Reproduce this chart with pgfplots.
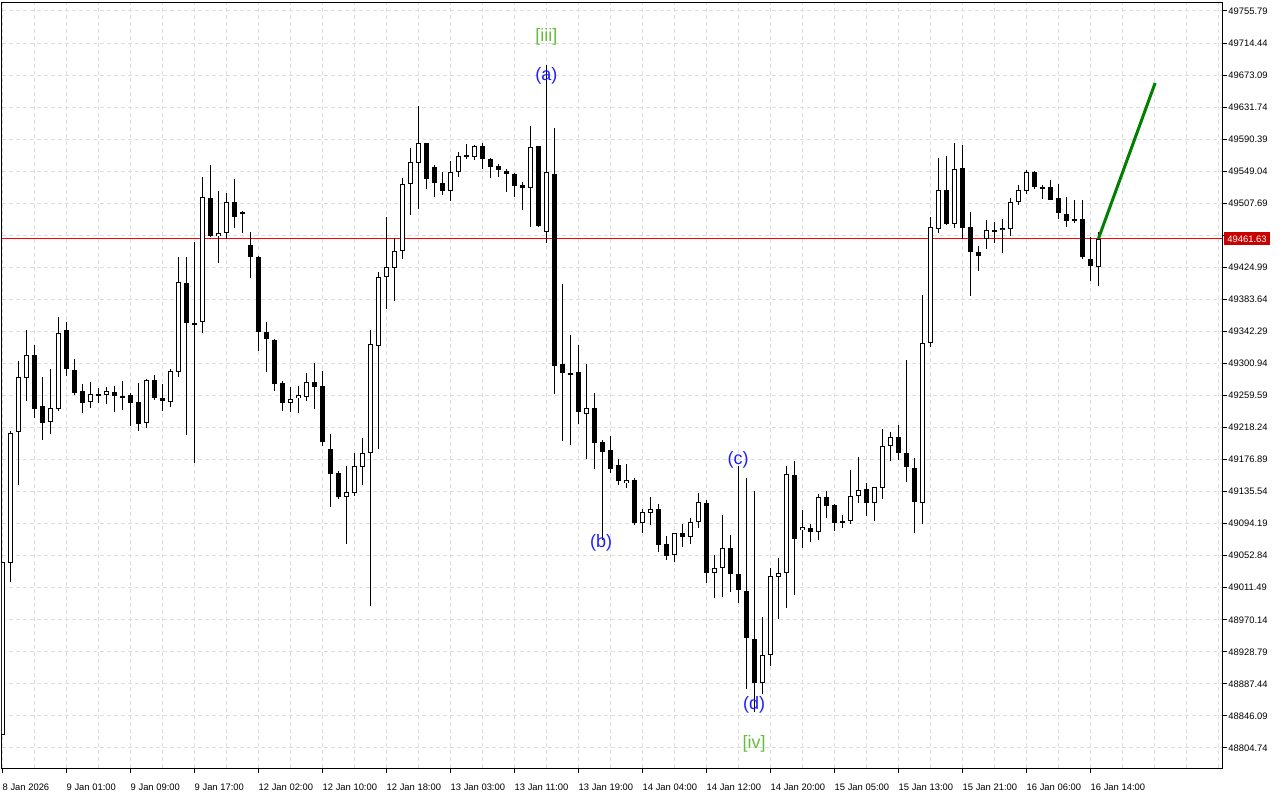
\documentclass[border=0pt]{standalone}
\usepackage{fontspec}
\setmainfont{Liberation Sans}
\usepackage{pgfplots}
\pgfplotsset{compat=1.18}
\usepackage{pgfplotstable}
\definecolor{gridc}{RGB}{222,222,222}
\definecolor{lblue}{RGB}{30,30,255}
\definecolor{wgreen}{RGB}{100,190,60}
\definecolor{fgreen}{RGB}{0,128,0}
\definecolor{pricered}{RGB}{200,0,0}

\pgfplotstableread{
i o h l c
0 48821.47 49044.73 48821.47 49044.73
1 49043.44 49213.78 49018.92 49211.20
2 49212.49 49304.12 49144.10 49283.47
3 49282.18 49344.12 49252.50 49311.86
4 49311.86 49324.77 49230.56 49242.18
5 49246.05 49283.47 49202.17 49224.11
6 49225.40 49293.80 49209.91 49243.47
7 49242.18 49360.90 49239.59 49340.25
8 49344.12 49354.45 49284.76 49293.80
9 49292.50 49306.70 49260.24 49262.82
10 49265.40 49274.44 49237.01 49249.92
11 49251.21 49277.02 49243.47 49261.53
12 49261.53 49269.28 49249.92 49258.95
13 49260.24 49270.57 49248.63 49265.40
14 49264.11 49271.86 49238.30 49258.95
15 49257.66 49278.31 49240.88 49257.66
16 49260.24 49262.82 49220.24 49249.92
17 49251.21 49275.73 49213.78 49222.82
18 49224.11 49280.89 49217.66 49279.60
19 49279.60 49286.05 49253.79 49256.37
20 49256.37 49274.44 49239.59 49252.50
21 49251.21 49293.80 49244.76 49291.21
22 49289.92 49438.33 49283.47 49406.07
23 49404.78 49438.33 49208.62 49353.16
24 49353.16 49457.69 49172.49 49350.58
25 49354.45 49541.57 49340.25 49515.76
26 49514.47 49557.06 49464.14 49465.43
27 49465.43 49523.50 49430.59 49469.30
28 49469.30 49520.92 49461.56 49509.31
29 49509.31 49538.99 49475.76 49489.95
30 49493.82 49497.69 49469.30 49496.40
31 49453.82 49470.59 49411.23 49438.33
32 49438.33 49439.62 49317.02 49341.54
33 49341.54 49354.45 49289.92 49332.51
34 49331.22 49332.51 49265.40 49274.44
35 49275.73 49278.31 49239.59 49249.92
36 49249.92 49270.57 49238.30 49255.08
37 49256.37 49271.86 49237.01 49260.24
38 49257.66 49288.63 49252.50 49277.02
39 49277.02 49301.54 49242.18 49270.57
40 49271.86 49291.21 49194.43 49199.59
41 49190.56 49209.91 49115.71 49158.29
42 49159.58 49162.16 49126.03 49128.61
43 49128.61 49168.62 49067.96 49135.06
44 49133.77 49185.39 49129.90 49168.62
45 49167.33 49204.75 49144.10 49185.39
46 49185.39 49344.12 48987.95 49326.06
47 49323.48 49418.97 49190.56 49412.52
48 49412.52 49489.95 49371.23 49425.43
49 49424.14 49462.85 49381.55 49446.07
50 49446.07 49540.28 49435.75 49532.54
51 49532.54 49579.00 49492.53 49560.93
52 49559.64 49633.20 49500.28 49585.45
53 49585.45 49585.45 49526.09 49538.99
54 49554.48 49557.06 49515.76 49533.83
55 49533.83 49548.02 49518.34 49523.50
56 49523.50 49562.22 49510.60 49548.02
57 49548.02 49573.83 49541.57 49568.67
58 49569.96 49584.16 49564.80 49567.38
59 49567.38 49582.87 49563.51 49581.58
60 49581.58 49585.45 49551.90 49564.80
61 49564.80 49566.09 49540.28 49554.48
62 49555.77 49558.35 49541.57 49550.60
63 49549.31 49551.90 49522.21 49545.44
64 49545.44 49546.73 49515.76 49529.96
65 49531.25 49535.12 49498.98 49527.38
66 49527.38 49607.39 49477.05 49580.29
67 49581.58 49581.58 49477.05 49478.34
68 49470.59 49686.00 49456.40 49548.02
69 49545.44 49604.81 49261.53 49297.67
70 49300.25 49403.49 49200.88 49288.63
71 49286.05 49337.67 49195.72 49288.63
72 49289.92 49324.77 49222.82 49238.30
73 49235.72 49300.25 49177.65 49243.47
74 49243.47 49262.82 49164.75 49198.30
75 49199.59 49202.17 49073.12 49186.68
76 49189.27 49207.33 49159.58 49164.75
77 49169.91 49177.65 49144.10 49149.26
78 49146.68 49171.20 49140.23 49150.55
79 49150.55 49153.13 49092.48 49095.06
80 49095.06 49113.13 49082.15 49109.25
81 49107.96 49128.61 49092.48 49113.13
82 49113.13 49119.58 49057.63 49066.67
83 49067.96 49078.28 49047.31 49052.47
84 49053.76 49082.15 49044.73 49082.15
85 49082.15 49093.77 49064.09 49076.99
86 49076.99 49101.51 49067.96 49096.35
87 49096.35 49133.77 49088.61 49122.16
88 49120.87 49124.74 49017.63 49030.53
89 49030.53 49053.76 48998.27 49036.99
90 49036.99 49105.38 48999.56 49062.80
91 49062.80 49079.57 49006.01 49029.24
92 49029.24 49168.62 48991.82 49008.59
93 49007.30 49153.13 48880.84 48946.65
94 48945.36 49136.35 48851.15 48888.58
95 48888.58 48973.75 48874.38 48924.71
96 48924.71 49036.99 48910.52 49026.66
97 49025.37 49049.89 48971.17 49030.53
98 49030.53 49168.62 48985.37 49158.29
99 49157.00 49175.07 49002.14 49074.41
100 49086.02 49111.83 49062.80 49089.90
101 49088.61 49093.77 49070.54 49083.44
102 49083.44 49132.48 49073.12 49128.61
103 49128.61 49136.35 49101.51 49117.00
104 49118.29 49119.58 49084.73 49095.06
105 49095.06 49105.38 49088.61 49097.64
106 49097.64 49163.45 49093.77 49129.90
107 49129.90 49180.23 49120.87 49137.64
108 49138.94 49146.68 49104.09 49120.87
109 49120.87 49141.52 49097.64 49141.52
110 49140.23 49216.37 49126.03 49194.43
111 49194.43 49212.49 49175.07 49206.04
112 49206.04 49221.53 49176.36 49185.39
113 49185.39 49305.41 49147.97 49167.33
114 49166.04 49178.94 49082.15 49122.16
115 49120.87 49389.29 49093.77 49327.35
116 49327.35 49489.95 49322.19 49477.05
117 49474.47 49566.09 49469.30 49524.79
118 49524.79 49568.67 49479.63 49480.92
119 49480.92 49585.45 49475.76 49551.90
120 49553.19 49582.87 49461.56 49475.76
121 49477.05 49496.40 49388.00 49444.78
122 49444.78 49452.53 49420.26 49439.62
123 49461.56 49486.08 49448.66 49473.17
124 49473.17 49483.50 49456.40 49471.88
125 49473.17 49487.37 49443.49 49475.76
126 49474.47 49514.47 49465.43 49509.31
127 49509.31 49531.25 49505.44 49524.79
128 49523.50 49550.60 49519.63 49548.02
129 49548.02 49549.31 49526.09 49528.67
130 49528.67 49531.25 49513.18 49527.38
131 49528.67 49537.70 49511.89 49511.89
132 49514.47 49532.54 49487.37 49495.11
133 49493.82 49515.76 49477.05 49484.79
134 49484.79 49511.89 49482.21 49487.37
135 49487.37 49511.89 49435.75 49438.33
136 49435.75 49464.14 49407.36 49426.72
137 49425.43 49470.59 49400.91 49461.63
}\candles

\begin{document}
\begin{tikzpicture}
\path[use as bounding box] (0,0) rectangle (640pt,400pt);
\begin{axis}[
  at={(1pt,16pt)}, anchor=south west,
  scale only axis, width=610pt, height=382.5pt,
  xmin=-0.04, xmax=152.46, ymin=48778.89, ymax=49766.12,
  scaled x ticks=false, scaled y ticks=false,
  axis line style={line width=0.5pt, black},
  tick style={black, line width=0.5pt},
  tick align=outside, major tick length=2.5pt, minor tick length=0pt,
  xtick pos=lower, ytick pos=right, yticklabel pos=right,
  xtick={0,8,...,136},
  xticklabels={8 Jan 2026, 9 Jan 01:00, 9 Jan 09:00, 9 Jan 17:00, 12 Jan 02:00, 12 Jan 10:00, 12 Jan 18:00, 13 Jan 03:00, 13 Jan 11:00, 13 Jan 19:00, 14 Jan 04:00, 14 Jan 12:00, 14 Jan 20:00, 15 Jan 05:00, 15 Jan 13:00, 15 Jan 21:00, 16 Jan 06:00, 16 Jan 14:00},
  minor xtick={4,12,20,28,36,44,52,60,68,76,84,92,100,108,116,124,132,140,144,148,152},
  ytick={48804.74,48846.09,48887.44,48928.79,48970.14,49011.49,49052.84,49094.19,49135.54,49176.89,49218.24,49259.59,49300.94,49342.29,49383.64,49424.99,49466.34,49507.69,49549.04,49590.39,49631.74,49673.09,49714.44,49755.79},
  yticklabels={48804.74,48846.09,48887.44,48928.79,48970.14,49011.49,49052.84,49094.19,49135.54,49176.89,49218.24,49259.59,49300.94,49342.29,49383.64,49424.99,{},49507.69,49549.04,49590.39,49631.74,49673.09,49714.44,49755.79},
  xticklabel style={font=\fontsize{4.7}{5.5}\selectfont, anchor=north west, inner sep=0pt, xshift=0pt, yshift=-5.5pt},
  yticklabel style={font=\fontsize{4.7}{5.5}\selectfont, anchor=west, inner sep=0pt, xshift=0.5pt},
  grid=both,
  major grid style={gridc, line width=0.5pt, dash pattern=on 2pt off 1.5pt},
  minor grid style={gridc, line width=0.5pt, dash pattern=on 2pt off 1.5pt},
]
% price line
\addplot [red, line width=0.5pt, forget plot] coordinates {(-1,49461.63) (160,49461.63)};
% wicks
\addplot [draw=none, no markers, forget plot,
  error bars/.cd, y dir=both, y explicit, error mark=none,
  error bar style={draw=black, line width=0.5pt}]
  table [x=i, y expr={(\thisrow{h}+\thisrow{l})/2}, y error expr={(\thisrow{h}-\thisrow{l})/2}] {\candles};
% bodies (black)
\addplot [draw=none, no markers, forget plot,
  error bars/.cd, y dir=both, y explicit, error mark=none,
  error bar style={draw=black, line width=2.5pt}]
  table [x=i, y expr={(\thisrow{o}+\thisrow{c})/2}, y error expr={max(abs(\thisrow{c}-\thisrow{o})/2,0.65)}] {\candles};
% hollow inside of rising candles
\addplot [draw=none, no markers, forget plot,
  error bars/.cd, y dir=both, y explicit, error mark=none,
  error bar style={draw=white, line width=1.5pt}]
  table [x=i, y expr={(\thisrow{o}+\thisrow{c})/2}, y error expr={max(\thisrow{c}-\thisrow{o}-2.58,0)/2}] {\candles};
% forecast line
\addplot [fgreen, line width=1.5pt, forget plot] coordinates {(137,49461.63) (144.1,49662.9)};
% wave labels
\node[text=wgreen, font=\fontsize{9}{10}\selectfont] at (axis cs:68,49722.24) {[iii]};
\node[text=lblue, font=\fontsize{9}{10}\selectfont] at (axis cs:68,49671.91) {(a)};
\node[text=lblue, font=\fontsize{9}{10}\selectfont] at (axis cs:74.85,49069.25) {(b)};
\node[text=lblue, font=\fontsize{9}{10}\selectfont] at (axis cs:91.96,49176.36) {(c)};
\node[text=lblue, font=\fontsize{9}{10}\selectfont] at (axis cs:93.96,48860.19) {(d)};
\node[text=wgreen, font=\fontsize{9}{10}\selectfont] at (axis cs:93.96,48809.86) {[iv]};
\coordinate (redc) at (axis cs:152.46,49461.63);
\end{axis}
\node[fill=pricered, text=white, font=\fontsize{4.7}{5.5}\selectfont, anchor=west, inner xsep=1.5pt, inner ysep=0pt, minimum height=6.5pt, xshift=1pt] at (redc) {49461.63};
\end{tikzpicture}
\end{document}
